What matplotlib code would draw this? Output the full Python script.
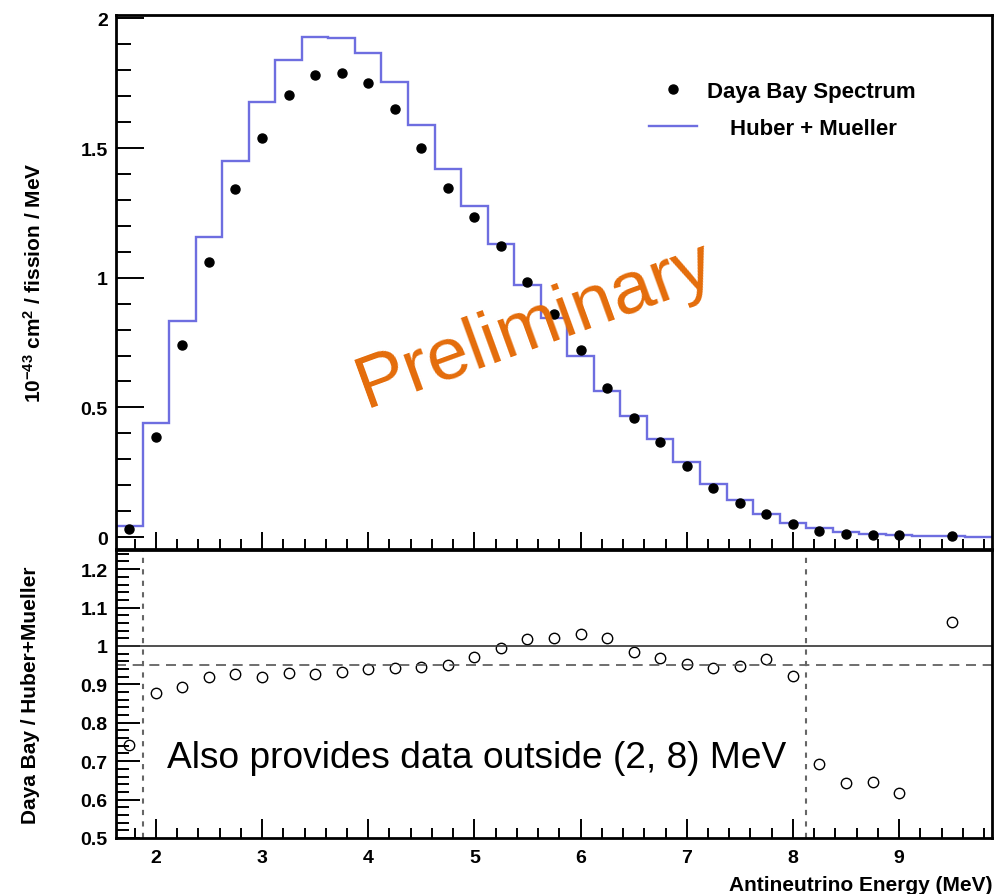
import numpy as np
import matplotlib
matplotlib.use("Agg")
import matplotlib.pyplot as plt
from matplotlib.ticker import MultipleLocator, FormatStrFormatter

plt.rcParams['font.family'] = ['Liberation Sans', 'DejaVu Sans']
plt.rcParams['mathtext.fontset'] = 'custom'
plt.rcParams['mathtext.rm'] = 'Liberation Sans:bold'
plt.rcParams['mathtext.bf'] = 'Liberation Sans:bold'
plt.rcParams['mathtext.default'] = 'bf'

# --- data ---
# Huber + Mueller prediction, bins of 0.25 MeV
bin_centers = [1.75, 2.0, 2.25, 2.5, 2.75, 3.0, 3.25, 3.5, 3.75, 4.0, 4.25,
               4.5, 4.75, 5.0, 5.25, 5.5, 5.75, 6.0, 6.25, 6.5, 6.75, 7.0,
               7.25, 7.5, 7.75, 8.0, 8.25, 8.5, 8.75, 9.0, 9.25, 9.5, 9.75]
huber_mueller = [0.044, 0.439, 0.833, 1.157, 1.450, 1.678, 1.841, 1.930,
                 1.925, 1.865, 1.754, 1.590, 1.420, 1.276, 1.130, 0.970,
                 0.843, 0.700, 0.564, 0.467, 0.380, 0.290, 0.204, 0.141,
                 0.090, 0.055, 0.035, 0.021, 0.012, 0.007, 0.004, 0.003,
                 0.002]

# Daya Bay measured spectrum
energy = [1.75, 2.0, 2.25, 2.5, 2.75, 3.0, 3.25, 3.5, 3.75, 4.0, 4.25, 4.5,
          4.75, 5.0, 5.25, 5.5, 5.75, 6.0, 6.25, 6.5, 6.75, 7.0, 7.25, 7.5,
          7.75, 8.0, 8.25, 8.5, 8.75, 9.0, 9.5]
daya_bay = [0.030, 0.385, 0.740, 1.061, 1.341, 1.537, 1.704, 1.782, 1.791,
            1.750, 1.649, 1.499, 1.347, 1.235, 1.121, 0.983, 0.860, 0.720,
            0.576, 0.460, 0.366, 0.275, 0.191, 0.131, 0.090, 0.052, 0.023,
            0.012, 0.008, 0.007, 0.003]
ratio = [0.741, 0.877, 0.893, 0.918, 0.927, 0.918, 0.929, 0.926, 0.933,
         0.941, 0.942, 0.946, 0.951, 0.971, 0.994, 1.018, 1.020, 1.032,
         1.020, 0.984, 0.968, 0.953, 0.943, 0.948, 0.967, 0.921, 0.692,
         0.643, 0.646, 0.616, 1.062]

fit_range = [1.875, 8.125]
ratio_ref = 1.0
ratio_mean = 0.95

bc = np.array(bin_centers)
edges = np.append(bc - 0.125, bc[-1] + 0.125)

fig = plt.figure(figsize=(9.96, 8.95), dpi=100)
ax1 = fig.add_axes([0.1165, 0.3855, 0.8795, 0.5966])
ax2 = fig.add_axes([0.1165, 0.0626, 0.8795, 0.3218])

blue = '#6e6ee0'
orange = '#e46c0a'

ax1.stairs(huber_mueller, edges, color=blue, lw=1.7, label='Huber + Mueller')
ax1.plot(energy, daya_bay, 'o', color='black', ms=6.5, ls='none',
         label='Daya Bay Spectrum')
ax1.set_xlim(edges[0], edges[-1])
ax1.set_ylim(-0.046, 2.013)

ax2.plot(energy, ratio, 'o', mfc='none', mec='black', mew=1.0, ms=7.5, ls='none')
ax2.axhline(ratio_ref, color='#333333', lw=1.2)
ax2.axhline(ratio_mean, color='#555555', lw=1.2, ls=(0, (6, 4)))
for xv in fit_range:
    ax2.axvline(xv, color='#666666', lw=1.5, ls=(0, (2.5, 3)))
ax2.set_xlim(edges[0], edges[-1])
ax2.set_ylim(0.5, 1.25)

for ax in (ax1, ax2):
    for s in ax.spines.values():
        s.set_linewidth(2.0)
    ax.xaxis.set_major_locator(MultipleLocator(1))
    ax.xaxis.set_minor_locator(MultipleLocator(0.2))
    ax.tick_params(which='both', direction='in', top=False, right=False,
                   width=1.4, labelsize=14)

ax1.yaxis.set_major_locator(MultipleLocator(0.5))
ax1.yaxis.set_minor_locator(MultipleLocator(0.1))
ax1.yaxis.set_major_formatter(FormatStrFormatter('%g'))
ax1.tick_params(axis='y', which='major', length=20, pad=6)
ax1.tick_params(axis='y', which='minor', length=11)
ax1.tick_params(axis='x', which='major', length=12, labelbottom=False)
ax1.tick_params(axis='x', which='minor', length=7)

ax2.yaxis.set_major_locator(MultipleLocator(0.1))
ax2.yaxis.set_minor_locator(MultipleLocator(0.02))
ax2.yaxis.set_major_formatter(FormatStrFormatter('%g'))
ax2.tick_params(axis='y', which='major', length=17, pad=6)
ax2.tick_params(axis='y', which='minor', length=9)
ax2.tick_params(axis='x', which='major', length=14, pad=8)
ax2.tick_params(axis='x', which='minor', length=7)
for lab in ax1.get_yticklabels() + ax2.get_yticklabels() + ax2.get_xticklabels():
    lab.set_fontweight('bold')

ax1.set_ylabel(r'$10^{-43}$ cm$^{2}$ / fission / MeV', fontsize=15, fontweight='bold')
ax1.yaxis.set_label_coords(-0.081, 0.5)
ax2.set_ylabel('Daya Bay / Huber+Mueller', fontsize=15, fontweight='bold')
ax2.yaxis.set_label_coords(-0.0868, 0.5)
ax2.set_xlabel('Antineutrino Energy (MeV)', fontsize=15, fontweight='bold', loc='right')
ax2.xaxis.set_label_coords(1.0, -0.128)

# legend: two entries, text roughly centred as in the original
h_hm, l_hm = ax1.get_legend_handles_labels()
leg1 = ax1.legend([h_hm[1]], [l_hm[1]], loc='upper left', frameon=False,
                  bbox_to_anchor=(0.608, 0.876), borderpad=0, borderaxespad=0,
                  handlelength=2.16, handletextpad=0.45, prop={'size': 16, 'weight': 'bold'})
ax1.add_artist(leg1)
ax1.legend([h_hm[0]], [l_hm[0]], loc='upper left', frameon=False,
           bbox_to_anchor=(0.608, 0.808), borderpad=0, borderaxespad=0,
           handlelength=2.16, handletextpad=1.5, prop={'size': 16, 'weight': 'bold'})

ax1.text(0.479, 0.42, 'Preliminary', transform=ax1.transAxes, color=orange,
         fontsize=54, rotation=20, ha='center', va='center', rotation_mode='anchor')
ax2.text(0.058, 0.28, 'Also provides data outside (2, 8) MeV', transform=ax2.transAxes,
         fontsize=26.7, ha='left', va='center')

fig.savefig('out.png', dpi=100)
